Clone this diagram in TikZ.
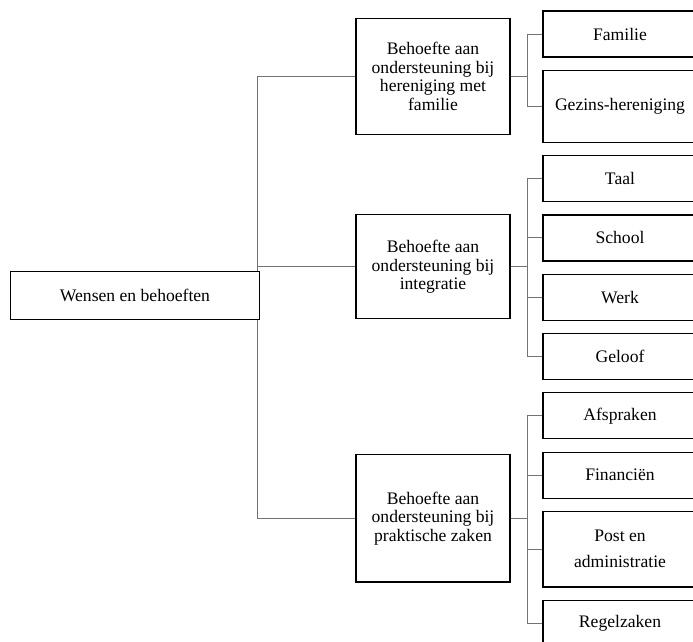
\documentclass[tikz,border=0pt]{standalone}
\usepackage{fontspec}
\setmainfont{Liberation Serif}
\usetikzlibrary{positioning,chains,scopes}
\newcommand{\connectneed}[2]{%
  \draw[conn] ([xshift=-3pt]#1) |- (#2.west)}
\newcommand{\connectleaf}[2]{%
  \draw[conn] (#1.east) -- ++(17pt,0) |- (#2.west)}

\begin{document}
\begin{tikzpicture}[x=1pt, y=-1pt,
    box/.style={rectangle, draw, line width=1.2pt, align=center, inner sep=2pt,
    font=\fontsize{17.6}{18.6}\selectfont},
    need/.style={box, minimum width=154pt},
    leaf/.style={box, minimum width=154pt, minimum height=46pt},
    conn/.style={draw=black!55, line width=0.9pt}]
  \useasboundingbox (0,0) rectangle (693,641);
  \clip (0,0) rectangle (693,641);
  \node[box, minimum width=249pt, minimum height=48pt] (root) at (135,295.5) {Wensen en behoeften};
  \node[need, minimum height=116pt] (family) at (433,76.4) {Behoefte aan\\ondersteuning bij\\hereniging met\\familie};
  \node[need, minimum height=104pt] (integration) at (433,266.8) {Behoefte aan\\ondersteuning bij\\integratie};
  \node[need, minimum height=127.5pt] (practical) at (433,518.3) {Behoefte aan\\ondersteuning bij\\praktische zaken};

  {[start chain=going below, node distance=12.1pt]
    \node[leaf, on chain] (fam) at (620,34) {Familie};
    \node[leaf, on chain, minimum height=72pt] (reunion) {Gezins-hereniging};
    \node[leaf, on chain] (taal) {Taal};
    \node[leaf, on chain] (school) {School};
    \node[leaf, on chain] (werk) {Werk};
    \node[leaf, on chain] (geloof) {Geloof};
    \node[leaf, on chain] (afspraken) {Afspraken};
    \node[leaf, on chain] (financien) {Financiën};
    \node[leaf, on chain, minimum height=75.5pt] (post) {Post en\\[7.5pt]administratie};
    \node[leaf, on chain] (regel) {Regelzaken};}

  \connectneed{root.north east}{family};
  \connectneed{root.north east}{integration};
  \connectneed{root.south east}{practical};

  \connectleaf{family}{fam};
  \connectleaf{family}{reunion};
  \connectleaf{integration}{taal};
  \connectleaf{integration}{school};
  \connectleaf{integration}{werk};
  \connectleaf{integration}{geloof};
  \connectleaf{practical}{afspraken};
  \connectleaf{practical}{financien};
  \connectleaf{practical}{post};
  \connectleaf{practical}{regel};
\end{tikzpicture}
\end{document}
